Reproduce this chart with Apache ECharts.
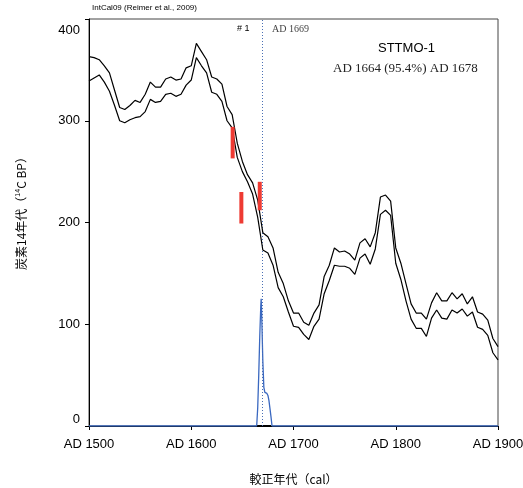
<!DOCTYPE html>
<html>
<head>
<meta charset="utf-8">
<title>STTMO-1 wiggle match</title>
<script src="https://cdn.jsdelivr.net/npm/echarts@6/dist/echarts.min.js"></script>
<style>
  html, body { margin: 0; padding: 0; background: #fff; }
  #chart { width: 523px; height: 488px; }
</style>
</head>
<body>
<div id="chart"></div>
<script>
// calendar years of the IntCal09 curve (5 yr steps)
var calYears = [];
for (var y = 1500; y <= 1900; y += 5) calYears.push(y);

// upper / lower envelope of the curve (14C BP)
var curveUpper = [363, 362, 360, 354, 347, 330, 313, 311, 315, 320, 318, 326, 338, 333, 333, 341, 343, 340, 341, 352,
  354, 376, 368, 360, 343, 341, 336, 314, 306, 278, 260, 247, 239, 222, 190, 186, 175, 151, 140, 123,
  111, 111, 102, 99, 111, 119, 147, 158, 175, 171, 172, 169, 163, 180, 184, 176, 190, 225, 227, 221,
  175, 160, 140, 120, 111, 111, 105, 121, 131, 123, 123, 131, 125, 130, 120, 127, 112, 110, 104, 86, 78];
var curveLower = [339, 342, 345, 338, 329, 315, 300, 298, 301, 303, 304, 309, 321, 318, 319, 326, 327, 324, 326, 335,
  340, 362, 354, 347, 328, 326, 319, 300, 293, 264, 250, 240, 228, 205, 173, 170, 158, 136, 127, 112,
  98, 97, 90, 85, 98, 105, 130, 143, 158, 157, 157, 155, 149, 165, 169, 159, 174, 208, 212, 207,
  160, 144, 123, 105, 96, 96, 88, 106, 114, 106, 105, 114, 111, 115, 108, 112, 97, 95, 89, 72, 65];

// measured samples (red bars, 1 sigma)
var measYears = [1640.5, 1649, 1667];
var measLo = [263, 199, 212];
var measHi = [294, 230, 240];

// calibrated probability (blue)
var probYears = [1500, 1664, 1665, 1666, 1667, 1668, 1668.4, 1669, 1670, 1671, 1672, 1674, 1675, 1676, 1677, 1678, 1679, 1900];
var probVals  = [0,    0,    18,   50,   88,   118,  125,    105,  64,   38,   33,   32,   30,   25,   17,   9,    0,    0];

var rangeYears = [1664.5, 1678];   // 95.4% range
var bestYear = 1669;

function pairs(xs, ys) {
  var out = [];
  for (var i = 0; i < xs.length; i++) out.push([xs[i], ys[i]]);
  return out;
}

var measData = [];
for (var i = 0; i < measYears.length; i++) measData.push([measYears[i], measLo[i], measHi[i]]);

var chart = echarts.init(document.getElementById('chart'));
var sans = 'Liberation Sans, Arial, sans-serif';
var serif = 'Liberation Serif, Times New Roman, serif';

chart.setOption({
  animation: false,
  grid: {
    left: 89, right: 25, top: 19, bottom: 62, outerBoundsMode: 'none', containLabel: false,
    show: true, borderColor: '#444', borderWidth: 1, backgroundColor: 'transparent'
  },
  xAxis: {
    type: 'value', min: 1500, max: 1900, interval: 100,
    name: '較正年代（cal）', nameLocation: 'middle', nameGap: 47,
    nameTextStyle: { fontFamily: 'Noto Sans CJK JP', fontSize: 12, color: '#000' },
    axisLine: { lineStyle: { color: '#000', width: 1 } },
    axisTick: { show: true, length: 4, lineStyle: { color: '#000' } },
    axisLabel: { margin: 12, fontSize: 13, color: '#000', fontFamily: sans,
      formatter: function (v) { return 'AD ' + v; } },
    splitLine: { show: false }
  },
  yAxis: {
    type: 'value', min: 0, max: 400, interval: 100,
    name: '{a|炭素14年代（}{s|14}{a|C BP）}', nameLocation: 'middle', nameGap: 62, nameRotate: 90,
    nameTextStyle: {
      padding: [0, 0, 0, 24],
      rich: {
        a: { fontFamily: 'Noto Sans CJK JP', fontSize: 12, color: '#000' },
        s: { fontFamily: sans, fontSize: 7, color: '#000', verticalAlign: 'top', padding: [0, 0, 5, 0] }
      }
    },
    axisLine: { show: true, lineStyle: { color: '#000', width: 1 } },
    axisTick: { show: true, length: 4, lineStyle: { color: '#000' } },
    axisLabel: { margin: 9, fontSize: 13, color: '#000', fontFamily: sans,
      verticalAlignMinLabel: 'bottom', verticalAlignMaxLabel: 'top',
      formatter: function (v) { return v === 400 ? '{t|400}' : String(v); },
      rich: { t: { fontSize: 13, color: '#000', fontFamily: sans, padding: [5, 0, 0, 0] } } },
    splitLine: { show: false }
  },
  series: [
    {
      type: 'line', data: pairs(probYears, probVals), symbol: 'none',
      lineStyle: { color: '#3a68c0', width: 1.3 }, z: 3,
      markLine: {
        silent: true, symbol: 'none', label: { show: false },
        lineStyle: { color: '#4a6fb5', type: [1, 2], width: 1 },
        data: [{ xAxis: bestYear }]
      }
    },
    {
      type: 'line', data: pairs(rangeYears, [0, 0]), symbol: 'none',
      lineStyle: { color: '#000', width: 2 }, z: 4
    },
    {
      type: 'line', data: pairs(calYears, curveUpper), symbol: 'none',
      lineStyle: { color: '#000', width: 1.2 }, z: 5
    },
    {
      type: 'line', data: pairs(calYears, curveLower), symbol: 'none',
      lineStyle: { color: '#000', width: 1.2 }, z: 5
    },
    {
      type: 'custom', data: measData, z: 6,
      renderItem: function (params, api) {
        var p1 = api.coord([api.value(0), api.value(1)]);
        var p2 = api.coord([api.value(0), api.value(2)]);
        return {
          type: 'line',
          shape: { x1: p1[0], y1: p1[1], x2: p2[0], y2: p2[1] },
          style: { stroke: '#ee3b33', lineWidth: 4 }
        };
      }
    }
  ],
  graphic: [
    { type: 'text', left: 92, top: 4,
      style: { text: 'IntCal09 (Reimer et al., 2009)', font: '8px ' + sans, fill: '#000' } },
    { type: 'text', left: 237, top: 24,
      style: { text: '# 1', font: '9px ' + sans, fill: '#000' } },
    { type: 'text', left: 272, top: 24,
      style: { text: 'AD 1669', font: '10px ' + serif, fill: '#444' } },
    { type: 'text', left: 378, top: 42,
      style: { text: 'STTMO-1', font: '13px ' + sans, fill: '#000' } },
    { type: 'text', left: 333, top: 62,
      style: { text: 'AD 1664 (95.4%) AD 1678', font: '13px ' + serif, fill: '#222' } }
  ]
});
</script>
</body>
</html>
